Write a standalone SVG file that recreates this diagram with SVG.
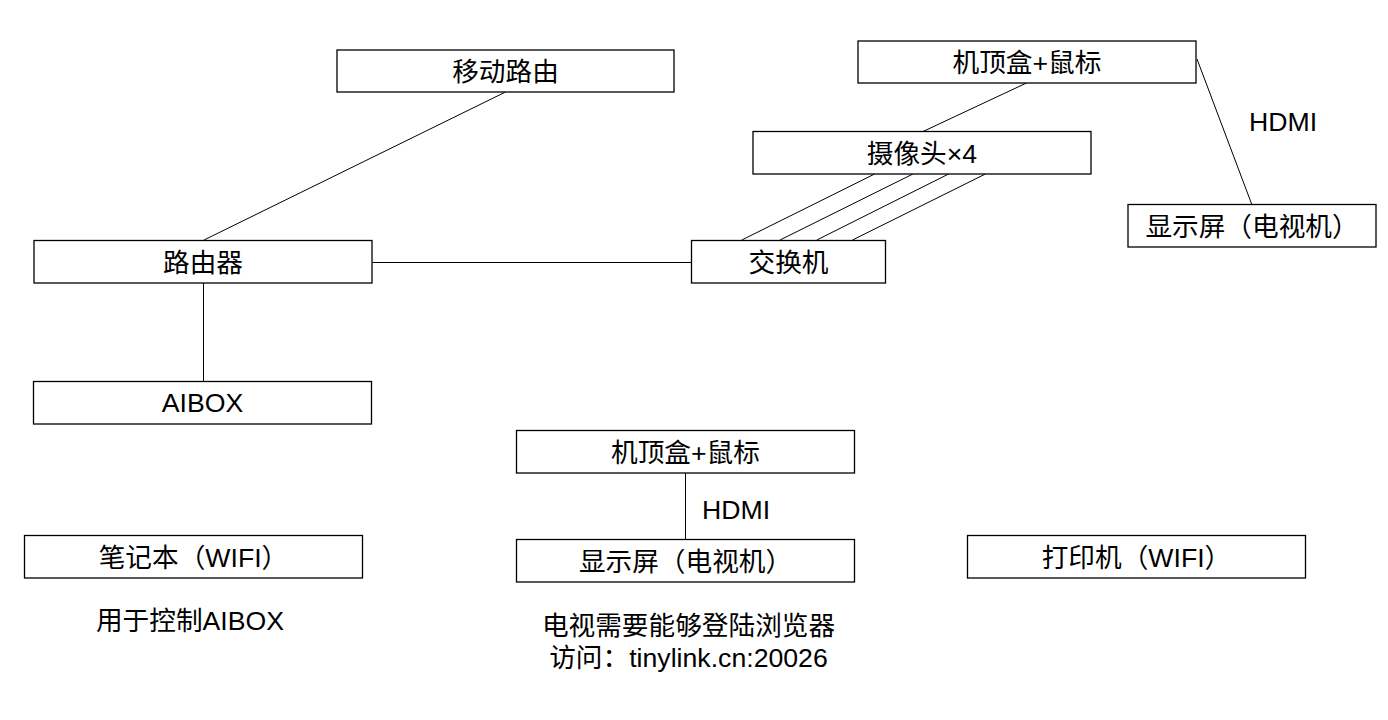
<svg xmlns="http://www.w3.org/2000/svg" width="1388" height="720" viewBox="0 0 1388 720">
<style>
.box{fill:#fff;stroke:#000;stroke-width:1.3}
.ln{stroke:#000;stroke-width:1;fill:none}
text{font-family:"Liberation Sans","Noto Sans CJK SC",sans-serif;font-size:26.67px;fill:#000;text-anchor:middle}
</style>
<rect width="1388" height="720" fill="#fff"/>
<g id="connectors">
<line class="ln" x1="505.5" y1="92" x2="204" y2="240"/>
<line class="ln" x1="372.5" y1="262.5" x2="691.5" y2="262.5"/>
<line class="ln" x1="203.5" y1="283" x2="203.5" y2="381"/>
<line class="ln" x1="1026.5" y1="83" x2="923" y2="131.5"/>
<line class="ln" x1="874.6" y1="174" x2="741.8" y2="240"/>
<line class="ln" x1="912.9" y1="174" x2="780" y2="240"/>
<line class="ln" x1="948.6" y1="174" x2="816.8" y2="240"/>
<line class="ln" x1="985.4" y1="174" x2="852.5" y2="240"/>
<line class="ln" x1="1197" y1="59" x2="1252" y2="205"/>
<line class="ln" x1="685.5" y1="473" x2="685.5" y2="540"/>
<text x="1283" y="131">HDMI</text>
<text x="736" y="519">HDMI</text>
</g>
<g id="mobile-router"><rect class="box" x="337" y="50" width="337" height="42"/><text x="505.5" y="81">移动路由</text></g>
<g id="stb-top"><rect class="box" x="858" y="41" width="338" height="42"/><text x="1027" y="72">机顶盒+鼠标</text></g>
<g id="camera"><rect class="box" x="753" y="131.5" width="338" height="42.5"/><text x="922" y="162.5">摄像头×4</text></g>
<g id="display-top"><rect class="box" x="1128" y="204.5" width="248" height="42.5"/><text x="1252" y="235.5">显示屏（电视机）</text></g>
<g id="router"><rect class="box" x="34" y="240.5" width="338" height="42.5"/><text x="203" y="271.5">路由器</text></g>
<g id="switch"><rect class="box" x="691.5" y="240.5" width="194" height="42.5"/><text x="788.5" y="271.5">交换机</text></g>
<g id="aibox"><rect class="box" x="33.5" y="381.5" width="338" height="42.5"/><text x="202.5" y="412">AIBOX</text></g>
<g id="stb-bottom"><rect class="box" x="516.5" y="430.5" width="338" height="42.5"/><text x="685.5" y="461.5">机顶盒+鼠标</text></g>
<g id="display-bottom"><rect class="box" x="516.5" y="539.5" width="338" height="42.5"/><text x="685.5" y="570.5">显示屏（电视机）</text></g>
<g id="laptop"><rect class="box" x="24.5" y="535.5" width="338" height="42.5"/><text x="193.5" y="566.5">笔记本（WIFI）</text><text x="190" y="630">用于控制AIBOX</text></g>
<g id="printer"><rect class="box" x="967.5" y="535.5" width="338" height="42.5"/><text x="1136.5" y="566.5">打印机（WIFI）</text></g>
<g id="note"><text x="688.5" y="635">电视需要能够登陆浏览器</text><text x="688.5" y="667">访问：tinylink.cn:20026</text></g>
</svg>
